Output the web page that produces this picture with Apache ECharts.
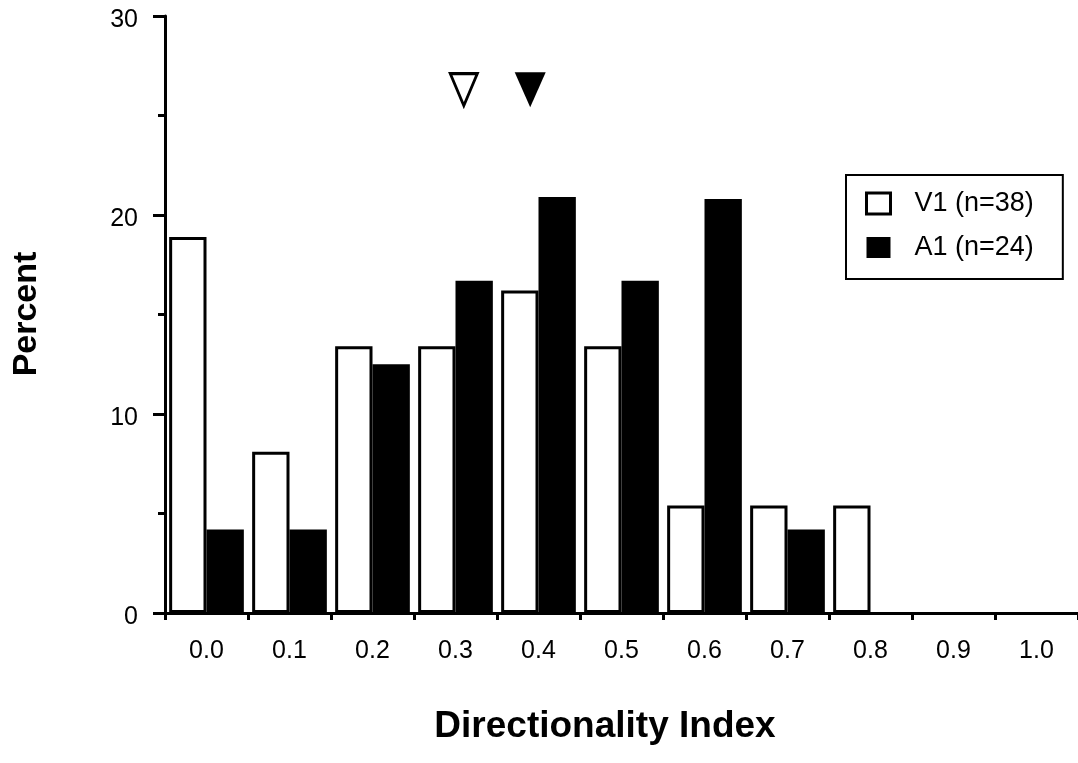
<!DOCTYPE html>
<html>
<head>
<meta charset="utf-8">
<script src="https://cdn.jsdelivr.net/npm/echarts@6/dist/echarts.min.js"></script>
<style>
  html, body { margin: 0; padding: 0; background: #fff; }
  #chart { width: 1078px; height: 763px; }
</style>
</head>
<body>
<div id="chart"></div>
<script>
// Directionality index histogram, V1 vs A1 neurons (percent of cells per bin)
const categories = ['0.0', '0.1', '0.2', '0.3', '0.4', '0.5', '0.6', '0.7', '0.8', '0.9', '1.0'];
const v1Values = [18.9, 8.1, 13.4, 13.4, 16.2, 13.4, 5.4, 5.4, 5.4, 0, 0];
const a1Values = [4.2, 4.2, 12.5, 16.7, 20.9, 16.7, 20.8, 4.2, 0, 0, 0];
const seriesNames = ['V1 (n=38)', 'A1 (n=24)'];
// Mean directionality index of each population, marked with triangles above the bars
const meanV1 = [0.31];
const meanA1 = [0.39];
const meanMarkerLevel = [26.3];
const yTicks = [0, 10, 20, 30];

const FONT = '"Liberation Sans", Arial, Helvetica, sans-serif';

// empty bins are left undrawn rather than drawn as flat outlines
const asBars = arr => arr.map(v => (v === 0 ? '-' : v));

const chart = echarts.init(document.getElementById('chart'), null, { renderer: 'canvas' });

const option = {
  backgroundColor: '#ffffff',
  animation: false,
  grid: { left: 165, top: 16, width: 916.7, height: 597, containLabel: false },
  xAxis: [
    {
      type: 'category',
      data: categories,
      boundaryGap: true,
      axisLine: { show: true, onZero: false, lineStyle: { color: '#000', width: 3 } },
      axisTick: { show: true, inside: false, length: 7, lineStyle: { color: '#000', width: 3 } },
      axisLabel: { color: '#000', fontFamily: FONT, fontSize: 25, margin: 26 },
      splitLine: { show: false }
    },
    {
      type: 'value',
      min: -0.05,
      max: 1.05,
      show: false,
      position: 'bottom'
    }
  ],
  yAxis: {
    type: 'value',
    min: yTicks[0],
    max: yTicks[yTicks.length - 1],
    interval: 10,
    axisLine: { show: true, onZero: false, lineStyle: { color: '#000', width: 3 } },
    axisTick: { show: true, inside: false, length: 12, lineStyle: { color: '#000', width: 3 } },
    minorTick: { show: true, splitNumber: 2, length: 7, lineStyle: { color: '#000', width: 3 } },
    axisLabel: {
      color: '#000', fontFamily: FONT, fontSize: 25, margin: 27,
      verticalAlign: 'top', lineHeight: 9
    },
    splitLine: { show: false },
    minorSplitLine: { show: false }
  },
  legend: {
    orient: 'vertical',
    left: 846,
    top: 175,
    padding: [15, 29, 18, 19],
    itemGap: 17,
    itemWidth: 24,
    itemHeight: 21,
    borderColor: '#000',
    borderWidth: 2,
    icon: 'rect',
    textStyle: { color: '#000', fontFamily: FONT, fontSize: 27, lineHeight: 22, padding: [0, 0, 0, 19] },
    data: [
      { name: seriesNames[0], itemStyle: { color: '#fff', borderColor: '#000', borderWidth: 3 } },
      { name: seriesNames[1], itemStyle: { color: '#000', borderColor: '#000', borderWidth: 0 } }
    ]
  },
  graphic: [
    {
      type: 'text',
      x: 605,
      y: 727,
      style: {
        text: 'Directionality Index',
        fill: '#000',
        font: 'bold 37px ' + FONT,
        textAlign: 'center',
        textVerticalAlign: 'middle'
      }
    },
    {
      type: 'text',
      x: 27,
      y: 314,
      rotation: Math.PI / 2,
      style: {
        text: 'Percent',
        fill: '#000',
        font: 'bold 34px ' + FONT,
        textAlign: 'center',
        textVerticalAlign: 'middle'
      }
    }
  ],
  series: [
    {
      name: seriesNames[0],
      type: 'bar',
      xAxisIndex: 0,
      data: asBars(v1Values),
      barGap: '0%',
      barCategoryGap: '10%',
      itemStyle: { color: '#fff', borderColor: '#000', borderWidth: 3 }
    },
    {
      name: seriesNames[1],
      type: 'bar',
      xAxisIndex: 0,
      data: asBars(a1Values),
      barGap: '0%',
      barCategoryGap: '10%',
      itemStyle: { color: '#000', borderColor: '#000', borderWidth: 0 }
    },
    {
      name: 'V1 mean',
      type: 'scatter',
      xAxisIndex: 1,
      symbol: 'triangle',
      symbolRotate: 180,
      symbolSize: [27, 32],
      itemStyle: { color: '#fff', borderColor: '#000', borderWidth: 3, opacity: 1 },
      data: meanV1.map(v => [v, meanMarkerLevel[0]]),
      z: 5
    },
    {
      name: 'A1 mean',
      type: 'scatter',
      xAxisIndex: 1,
      symbol: 'triangle',
      symbolRotate: 180,
      symbolSize: [31, 35],
      itemStyle: { color: '#000', opacity: 1 },
      data: meanA1.map(v => [v, meanMarkerLevel[0]]),
      z: 5
    }
  ]
};

chart.setOption(option);
</script>
</body>
</html>
